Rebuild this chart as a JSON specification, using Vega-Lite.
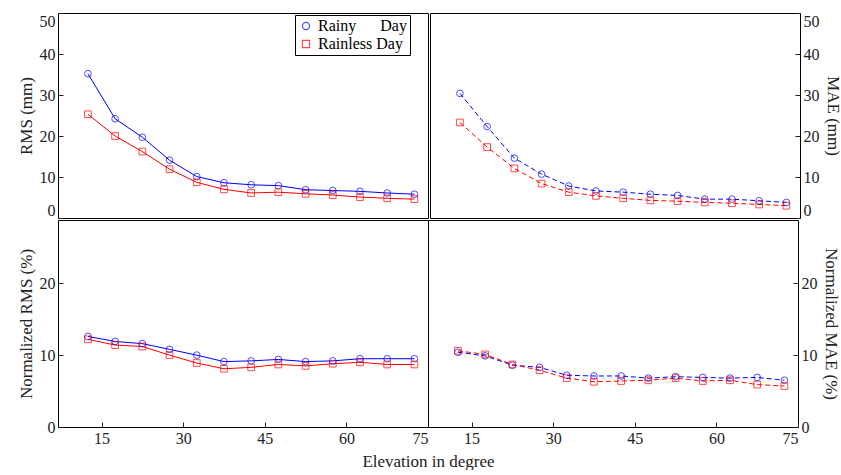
{
  "$schema": "https://vega.github.io/schema/vega-lite/v6.json",
  "padding": {"left": 16, "top": 12, "right": 0, "bottom": 0},
  "config": {
    "font": "Liberation Serif",
    "view": {"stroke": "#000", "strokeWidth": 1},
    "concat": {"spacing": 0},
    "axis": {"labelFont": "Liberation Serif", "titleFont": "Liberation Serif", "labelFontSize": 16, "titleFontSize": 17, "titleFontWeight": "normal", "labelColor": "#222", "titleColor": "#222", "grid": false, "domain": false, "tickColor": "#222", "tickSize": -5, "labelPadding": 8},
    "legend": {"labelFont": "Liberation Serif", "labelFontSize": 16, "labelColor": "#000", "strokeColor": "#000", "fillColor": "#fff", "padding": 3, "symbolStrokeWidth": 1.2, "symbolFillColor": "transparent", "rowPadding": 2, "labelLimit": 300, "symbolSize": 50}
  },
  "datasets": {
    "d": [
      {"p":"RMS","x":12.5,"s":"Rainy     Day","v":35.2},{"p":"RMS","x":17.5,"s":"Rainy     Day","v":24.2},{"p":"RMS","x":22.5,"s":"Rainy     Day","v":19.7},{"p":"RMS","x":27.5,"s":"Rainy     Day","v":14.1},{"p":"RMS","x":32.5,"s":"Rainy     Day","v":10.1},{"p":"RMS","x":37.5,"s":"Rainy     Day","v":8.6},{"p":"RMS","x":42.5,"s":"Rainy     Day","v":8.1},{"p":"RMS","x":47.5,"s":"Rainy     Day","v":7.9},{"p":"RMS","x":52.5,"s":"Rainy     Day","v":6.9},{"p":"RMS","x":57.5,"s":"Rainy     Day","v":6.7},{"p":"RMS","x":62.5,"s":"Rainy     Day","v":6.5},{"p":"RMS","x":67.5,"s":"Rainy     Day","v":6.1},{"p":"RMS","x":72.5,"s":"Rainy     Day","v":5.8},
      {"p":"RMS","x":12.5,"s":"Rainless Day","v":25.3},{"p":"RMS","x":17.5,"s":"Rainless Day","v":20.0},{"p":"RMS","x":22.5,"s":"Rainless Day","v":16.2},{"p":"RMS","x":27.5,"s":"Rainless Day","v":11.9},{"p":"RMS","x":32.5,"s":"Rainless Day","v":8.7},{"p":"RMS","x":37.5,"s":"Rainless Day","v":7.0},{"p":"RMS","x":42.5,"s":"Rainless Day","v":6.1},{"p":"RMS","x":47.5,"s":"Rainless Day","v":6.3},{"p":"RMS","x":52.5,"s":"Rainless Day","v":5.9},{"p":"RMS","x":57.5,"s":"Rainless Day","v":5.6},{"p":"RMS","x":62.5,"s":"Rainless Day","v":5.1},{"p":"RMS","x":67.5,"s":"Rainless Day","v":4.8},{"p":"RMS","x":72.5,"s":"Rainless Day","v":4.6},
      {"p":"MAE","x":12.5,"s":"Rainy     Day","v":30.4},{"p":"MAE","x":17.5,"s":"Rainy     Day","v":22.3},{"p":"MAE","x":22.5,"s":"Rainy     Day","v":14.6},{"p":"MAE","x":27.5,"s":"Rainy     Day","v":10.7},{"p":"MAE","x":32.5,"s":"Rainy     Day","v":7.8},{"p":"MAE","x":37.5,"s":"Rainy     Day","v":6.6},{"p":"MAE","x":42.5,"s":"Rainy     Day","v":6.3},{"p":"MAE","x":47.5,"s":"Rainy     Day","v":5.8},{"p":"MAE","x":52.5,"s":"Rainy     Day","v":5.5},{"p":"MAE","x":57.5,"s":"Rainy     Day","v":4.6},{"p":"MAE","x":62.5,"s":"Rainy     Day","v":4.6},{"p":"MAE","x":67.5,"s":"Rainy     Day","v":4.2},{"p":"MAE","x":72.5,"s":"Rainy     Day","v":3.8},
      {"p":"MAE","x":12.5,"s":"Rainless Day","v":23.3},{"p":"MAE","x":17.5,"s":"Rainless Day","v":17.3},{"p":"MAE","x":22.5,"s":"Rainless Day","v":12.1},{"p":"MAE","x":27.5,"s":"Rainless Day","v":8.4},{"p":"MAE","x":32.5,"s":"Rainless Day","v":6.3},{"p":"MAE","x":37.5,"s":"Rainless Day","v":5.4},{"p":"MAE","x":42.5,"s":"Rainless Day","v":4.8},{"p":"MAE","x":47.5,"s":"Rainless Day","v":4.3},{"p":"MAE","x":52.5,"s":"Rainless Day","v":4.1},{"p":"MAE","x":57.5,"s":"Rainless Day","v":3.8},{"p":"MAE","x":62.5,"s":"Rainless Day","v":3.6},{"p":"MAE","x":67.5,"s":"Rainless Day","v":3.3},{"p":"MAE","x":72.5,"s":"Rainless Day","v":3.0},
      {"p":"NRMS","x":12.5,"s":"Rainy     Day","v":12.6},{"p":"NRMS","x":17.5,"s":"Rainy     Day","v":11.9},{"p":"NRMS","x":22.5,"s":"Rainy     Day","v":11.6},{"p":"NRMS","x":27.5,"s":"Rainy     Day","v":10.8},{"p":"NRMS","x":32.5,"s":"Rainy     Day","v":10.0},{"p":"NRMS","x":37.5,"s":"Rainy     Day","v":9.1},{"p":"NRMS","x":42.5,"s":"Rainy     Day","v":9.2},{"p":"NRMS","x":47.5,"s":"Rainy     Day","v":9.4},{"p":"NRMS","x":52.5,"s":"Rainy     Day","v":9.1},{"p":"NRMS","x":57.5,"s":"Rainy     Day","v":9.2},{"p":"NRMS","x":62.5,"s":"Rainy     Day","v":9.5},{"p":"NRMS","x":67.5,"s":"Rainy     Day","v":9.5},{"p":"NRMS","x":72.5,"s":"Rainy     Day","v":9.5},
      {"p":"NRMS","x":12.5,"s":"Rainless Day","v":12.2},{"p":"NRMS","x":17.5,"s":"Rainless Day","v":11.4},{"p":"NRMS","x":22.5,"s":"Rainless Day","v":11.2},{"p":"NRMS","x":27.5,"s":"Rainless Day","v":10.0},{"p":"NRMS","x":32.5,"s":"Rainless Day","v":8.9},{"p":"NRMS","x":37.5,"s":"Rainless Day","v":8.1},{"p":"NRMS","x":42.5,"s":"Rainless Day","v":8.3},{"p":"NRMS","x":47.5,"s":"Rainless Day","v":8.7},{"p":"NRMS","x":52.5,"s":"Rainless Day","v":8.5},{"p":"NRMS","x":57.5,"s":"Rainless Day","v":8.8},{"p":"NRMS","x":62.5,"s":"Rainless Day","v":9.0},{"p":"NRMS","x":67.5,"s":"Rainless Day","v":8.7},{"p":"NRMS","x":72.5,"s":"Rainless Day","v":8.7},
      {"p":"NMAE","x":12.5,"s":"Rainy     Day","v":10.4},{"p":"NMAE","x":17.5,"s":"Rainy     Day","v":9.9},{"p":"NMAE","x":22.5,"s":"Rainy     Day","v":8.6},{"p":"NMAE","x":27.5,"s":"Rainy     Day","v":8.3},{"p":"NMAE","x":32.5,"s":"Rainy     Day","v":7.2},{"p":"NMAE","x":37.5,"s":"Rainy     Day","v":7.1},{"p":"NMAE","x":42.5,"s":"Rainy     Day","v":7.1},{"p":"NMAE","x":47.5,"s":"Rainy     Day","v":6.8},{"p":"NMAE","x":52.5,"s":"Rainy     Day","v":7.0},{"p":"NMAE","x":57.5,"s":"Rainy     Day","v":6.9},{"p":"NMAE","x":62.5,"s":"Rainy     Day","v":6.8},{"p":"NMAE","x":67.5,"s":"Rainy     Day","v":6.9},{"p":"NMAE","x":72.5,"s":"Rainy     Day","v":6.5},
      {"p":"NMAE","x":12.5,"s":"Rainless Day","v":10.6},{"p":"NMAE","x":17.5,"s":"Rainless Day","v":10.1},{"p":"NMAE","x":22.5,"s":"Rainless Day","v":8.7},{"p":"NMAE","x":27.5,"s":"Rainless Day","v":7.9},{"p":"NMAE","x":32.5,"s":"Rainless Day","v":6.8},{"p":"NMAE","x":37.5,"s":"Rainless Day","v":6.3},{"p":"NMAE","x":42.5,"s":"Rainless Day","v":6.4},{"p":"NMAE","x":47.5,"s":"Rainless Day","v":6.5},{"p":"NMAE","x":52.5,"s":"Rainless Day","v":6.8},{"p":"NMAE","x":57.5,"s":"Rainless Day","v":6.4},{"p":"NMAE","x":62.5,"s":"Rainless Day","v":6.5},{"p":"NMAE","x":67.5,"s":"Rainless Day","v":5.9},{"p":"NMAE","x":72.5,"s":"Rainless Day","v":5.7}
    ]
  },
  "data": {"name": "d"},
  "resolve": {"scale": {"color": "independent", "shape": "independent", "stroke": "independent"}, "legend": {"color": "independent", "shape": "independent", "stroke": "independent"}},
  "vconcat": [
    {
      "hconcat": [
        {
          "width": 370, "height": 205,
          "transform": [{"filter": "datum.p === 'RMS'"}],
          "encoding": {
            "x": {"field": "x", "type": "quantitative", "scale": {"domain": [7, 75], "nice": false}, "axis": null},
            "y": {"field": "v", "type": "quantitative", "scale": {"domain": [0, 50], "nice": false}, "axis": {"values": [0, 10, 20, 30, 40, 50], "title": "RMS (mm)", "titlePadding": 4, "labelFlush": true}}
          },
          "layer": [
            {"mark": {"type": "line", "strokeWidth": 1}, "encoding": {"color": {"field": "s", "type": "nominal", "scale": {"domain": ["Rainy     Day", "Rainless Day"], "range": ["#0000ff", "#ff0000"]}, "legend": {"title": null, "orient": "none", "legendX": 237, "legendY": 2, "labelExpr": "datum.label == 'Rainless Day' ? datum.label : 'Rainy\u00a0\u00a0\u00a0\u00a0\u00a0\u00a0Day'"}}}},
            {"mark": {"type": "point", "filled": false, "size": 45, "strokeWidth": 1}, "encoding": {"stroke": {"field": "s", "type": "nominal", "scale": {"domain": ["Rainy     Day", "Rainless Day"], "range": ["#0000ff", "#ff0000"]}, "legend": {"title": null, "orient": "none", "legendX": 237, "legendY": 2, "labelExpr": "datum.label == 'Rainless Day' ? datum.label : 'Rainy\u00a0\u00a0\u00a0\u00a0\u00a0\u00a0Day'"}}, "shape": {"field": "s", "type": "nominal", "scale": {"domain": ["Rainy     Day", "Rainless Day"], "range": ["circle", "square"]}, "legend": {"title": null, "orient": "none", "legendX": 237, "legendY": 2, "labelExpr": "datum.label == 'Rainless Day' ? datum.label : 'Rainy\u00a0\u00a0\u00a0\u00a0\u00a0\u00a0Day'"}}}}
          ]
        },
        {
          "width": 370, "height": 205,
          "transform": [{"filter": "datum.p === 'MAE'"}],
          "encoding": {
            "x": {"field": "x", "type": "quantitative", "scale": {"domain": [7, 75], "nice": false}, "axis": null},
            "y": {"field": "v", "type": "quantitative", "scale": {"domain": [0, 50], "nice": false}, "axis": {"orient": "right", "values": [0, 10, 20, 30, 40, 50], "title": "MAE (mm)", "titleAngle": 90, "titlePadding": 4, "labelFlush": true}}
          },
          "layer": [
            {"mark": {"type": "line", "strokeWidth": 1, "strokeDash": [5, 3]}, "encoding": {"color": {"field": "s", "type": "nominal", "scale": {"domain": ["Rainy     Day", "Rainless Day"], "range": ["#0000ff", "#ff0000"]}, "legend": {"title": null, "orient": "none", "legendX": 0, "legendY": 2, "labelExpr": "datum.label == 'Rainless Day' ? datum.label : 'Rainy\u00a0\u00a0\u00a0\u00a0\u00a0\u00a0Day'"}}}},
            {"mark": {"type": "point", "filled": false, "size": 45, "strokeWidth": 1}, "encoding": {"stroke": {"field": "s", "type": "nominal", "scale": {"domain": ["Rainy     Day", "Rainless Day"], "range": ["#0000ff", "#ff0000"]}, "legend": {"title": null, "orient": "none", "legendX": 0, "legendY": 2, "labelExpr": "datum.label == 'Rainless Day' ? datum.label : 'Rainy\u00a0\u00a0\u00a0\u00a0\u00a0\u00a0Day'"}}, "shape": {"field": "s", "type": "nominal", "scale": {"domain": ["Rainy     Day", "Rainless Day"], "range": ["circle", "square"]}, "legend": {"title": null, "orient": "none", "legendX": 0, "legendY": 2, "labelExpr": "datum.label == 'Rainless Day' ? datum.label : 'Rainy\u00a0\u00a0\u00a0\u00a0\u00a0\u00a0Day'"}}}}
          ]
        }
      ]
    },
    {
      "bounds": "flush",
      "hconcat": [
        {
          "width": 370, "height": 207,
          "transform": [{"filter": "datum.p === 'NRMS'"}],
          "encoding": {
            "x": {"field": "x", "type": "quantitative", "scale": {"domain": [7, 75], "nice": false}, "axis": {"values": [15, 30, 45, 60, 75], "title": "Elevation in degree", "titleX": 370, "titleAlign": "center", "titleY": 26}},
            "y": {"field": "v", "type": "quantitative", "scale": {"domain": [0, 28.8], "nice": false}, "axis": {"values": [0, 10, 20], "title": "Normalized RMS (%)", "titlePadding": 4}}
          },
          "layer": [
            {"mark": {"type": "line", "strokeWidth": 1}, "encoding": {"color": {"field": "s", "type": "nominal", "scale": {"domain": ["Rainy     Day", "Rainless Day"], "range": ["#0000ff", "#ff0000"]}, "legend": null}}},
            {"mark": {"type": "point", "filled": false, "size": 45, "strokeWidth": 1}, "encoding": {"stroke": {"field": "s", "type": "nominal", "scale": {"domain": ["Rainy     Day", "Rainless Day"], "range": ["#0000ff", "#ff0000"]}, "legend": null}, "shape": {"field": "s", "type": "nominal", "scale": {"domain": ["Rainy     Day", "Rainless Day"], "range": ["circle", "square"]}, "legend": null}}}
          ]
        },
        {
          "width": 370, "height": 207,
          "transform": [{"filter": "datum.p === 'NMAE'"}],
          "encoding": {
            "x": {"field": "x", "type": "quantitative", "scale": {"domain": [7, 75], "nice": false}, "axis": {"values": [15, 30, 45, 60, 75], "title": null}},
            "y": {"field": "v", "type": "quantitative", "scale": {"domain": [0, 28.8], "nice": false}, "axis": {"orient": "right", "values": [0, 10, 20], "title": "Normalized MAE (%)", "titleAngle": 90, "titlePadding": 4}}
          },
          "layer": [
            {"mark": {"type": "line", "strokeWidth": 1, "strokeDash": [5, 3]}, "encoding": {"color": {"field": "s", "type": "nominal", "scale": {"domain": ["Rainy     Day", "Rainless Day"], "range": ["#0000ff", "#ff0000"]}, "legend": null}}},
            {"mark": {"type": "point", "filled": false, "size": 45, "strokeWidth": 1}, "encoding": {"stroke": {"field": "s", "type": "nominal", "scale": {"domain": ["Rainy     Day", "Rainless Day"], "range": ["#0000ff", "#ff0000"]}, "legend": null}, "shape": {"field": "s", "type": "nominal", "scale": {"domain": ["Rainy     Day", "Rainless Day"], "range": ["circle", "square"]}, "legend": null}}}
          ]
        }
      ]
    }
  ]
}
